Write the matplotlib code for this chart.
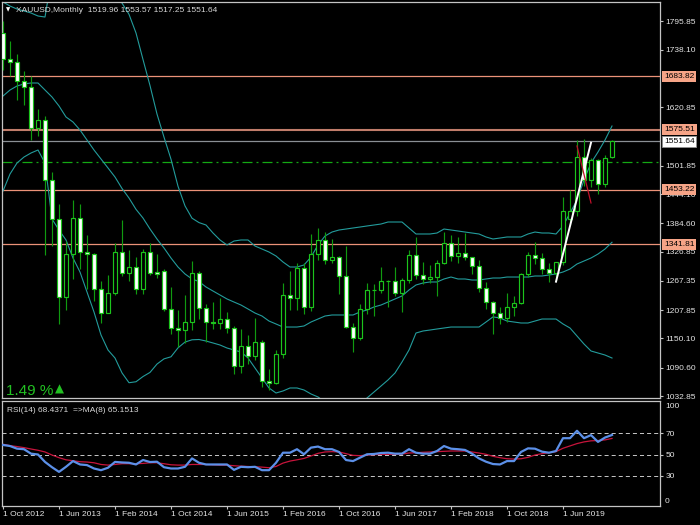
import numpy as np
import matplotlib.pyplot as plt

plt.rcParams['font.family'] = ['Liberation Sans', 'DejaVu Sans']
plt.rcParams['lines.scale_dashes'] = False

# XAUUSD monthly bars, Oct 2012 .. Jan 2020
opens = [1773, 1719, 1712, 1675, 1663, 1578, 1595, 1472, 1393, 1234,
         1322, 1395, 1327, 1323, 1251, 1202, 1243, 1326, 1284, 1296,
         1250, 1327, 1286, 1287, 1210, 1171, 1167, 1183, 1283, 1213,
         1184, 1182, 1190, 1172, 1095, 1134, 1115, 1142, 1064, 1060,
         1118, 1238, 1233, 1293, 1215, 1322, 1351, 1309, 1316, 1277,
         1173, 1152, 1211, 1248, 1249, 1268, 1268, 1242, 1269, 1321,
         1280, 1271, 1275, 1303, 1345, 1318, 1325, 1315, 1298, 1253,
         1224, 1201, 1192, 1214, 1222, 1282, 1321, 1313, 1292, 1284,
         1305, 1393, 1410, 1520, 1472, 1513, 1464, 1519.96]
highs = [1796, 1755, 1730, 1694, 1685, 1617, 1604, 1488, 1424, 1348,
         1433, 1424, 1361, 1324, 1267, 1280, 1345, 1392, 1331, 1315,
         1332, 1345, 1322, 1292, 1255, 1208, 1238, 1308, 1288, 1220,
         1224, 1232, 1205, 1175, 1170, 1157, 1191, 1146, 1088, 1126,
         1263, 1287, 1303, 1304, 1362, 1375, 1367, 1352, 1318, 1338,
         1181, 1220, 1264, 1262, 1296, 1270, 1296, 1274, 1331, 1357,
         1306, 1299, 1309, 1366, 1361, 1356, 1365, 1316, 1309, 1265,
         1226, 1214, 1243, 1237, 1284, 1326, 1347, 1324, 1303, 1306,
         1439, 1453, 1555, 1557, 1517, 1516, 1524, 1553.57]
lows = [1696, 1685, 1636, 1626, 1555, 1562, 1321, 1338, 1180, 1208,
        1271, 1292, 1251, 1226, 1182, 1202, 1238, 1277, 1268, 1240,
        1240, 1280, 1273, 1206, 1160, 1132, 1141, 1167, 1190, 1142,
        1170, 1170, 1162, 1077, 1080, 1098, 1106, 1052, 1046, 1058,
        1111, 1208, 1208, 1199, 1207, 1310, 1301, 1303, 1241, 1171,
        1123, 1146, 1200, 1195, 1243, 1214, 1236, 1204, 1264, 1271,
        1261, 1264, 1236, 1302, 1307, 1303, 1310, 1282, 1245, 1211,
        1160, 1180, 1183, 1196, 1221, 1276, 1302, 1281, 1266, 1267,
        1300, 1382, 1400, 1460, 1458, 1445, 1459, 1517.25]
closes = [1719, 1712, 1675, 1663, 1578, 1595, 1472, 1393, 1234, 1322,
          1395, 1327, 1323, 1251, 1202, 1243, 1326, 1284, 1296, 1250,
          1327, 1283, 1282, 1210, 1172, 1167, 1183, 1283, 1213, 1183,
          1182, 1190, 1172, 1095, 1134, 1115, 1142, 1064, 1060, 1118,
          1238, 1233, 1293, 1215, 1322, 1351, 1309, 1316, 1277, 1173,
          1152, 1211, 1249, 1249, 1268, 1268, 1242, 1269, 1321, 1280,
          1271, 1275, 1303, 1345, 1318, 1325, 1315, 1298, 1253, 1224,
          1201, 1192, 1214, 1222, 1282, 1321, 1313, 1292, 1284, 1305,
          1409, 1410, 1520, 1472, 1513, 1464, 1517, 1551.64]

# Bollinger bands (20, 2)
bb_upper = [1835.1, 1826.9, 1820.8, 1816.8, 1812.7, 1806.6, 1804.5, 1890, 1876, 1851,
            1868, 1864, 1864, 1864, 1874, 1868, 1847, 1833, 1810, 1772,
            1718, 1665, 1607, 1560, 1515, 1460, 1420, 1395, 1386, 1381.1,
            1364.8, 1350.6, 1340.4, 1348.5, 1350.6, 1350.6, 1338.3, 1332.2, 1326.1, 1318.0,
            1305.8, 1295.6, 1295.6, 1299.7, 1315.9, 1340.4, 1358.7, 1366.8, 1370.9, 1372.9,
            1375.0, 1377.0, 1379.1, 1381.1, 1383.1, 1387.2, 1387.2, 1387.2, 1375.0, 1362.8,
            1362.8, 1362.8, 1364.8, 1372.9, 1370.9, 1368.9, 1366.8, 1364.8, 1362.8, 1356.7,
            1352.6, 1354.6, 1356.7, 1356.7, 1356.7, 1362.8, 1366.8, 1364.8, 1364.8, 1362.8,
            1379.1, 1405.5, 1432.0, 1472.7, 1507.3, 1529.7, 1554.1, 1582.6]
bb_middle = [1643.7, 1655.9, 1664.1, 1668.2, 1670.2, 1670.2, 1655.9, 1641.7, 1623.4, 1601.0,
             1590.8, 1574.5, 1554.1, 1533.8, 1515.5, 1497.2, 1478.8, 1455.5, 1436.0, 1413.0,
             1395.3, 1373.0, 1352.6, 1334.3, 1313.9, 1295.6, 1281.4, 1271.2, 1266.0, 1254.9,
             1246.7, 1238.6, 1230.5, 1224.3, 1218.2, 1210.1, 1201.9, 1195.8, 1185.6, 1179.6,
             1173.4, 1173.4, 1173.4, 1175.5, 1183.6, 1189.7, 1195.8, 1197.9, 1197.9, 1197.9,
             1197.9, 1204.0, 1208.1, 1214.2, 1218.2, 1224.3, 1230.5, 1236.6, 1248.8, 1259.0,
             1263.0, 1265.1, 1265.1, 1271.2, 1275.2, 1271.2, 1271.2, 1269.1, 1269.1, 1271.2,
             1273.2, 1273.2, 1275.2, 1275.2, 1275.2, 1275.2, 1277.3, 1277.3, 1279.3, 1281.4,
             1285.4, 1291.5, 1301.7, 1307.8, 1313.9, 1322.0, 1332.2, 1346.0]
bb_lower = [1450.3, 1484.9, 1507.3, 1519.5, 1527.7, 1533.8, 1507.3, 1393.3, 1370.9, 1350.6,
            1313.9, 1285.4, 1244.7, 1204.0, 1157.2, 1126.6, 1110.3, 1080, 1060, 1062,
            1072.6, 1081, 1098, 1108.6, 1112.8, 1131, 1142.8, 1147.4, 1148, 1144.9,
            1140.9, 1136.8, 1130.7, 1126.6, 1122.6, 1110.4, 1090.0, 1069.6, 1049.3, 1039.1,
            1043.2, 1049.3, 1049.3, 1045.2, 1037.1, 1031.0, 1020.8, 1014.6, 1010.6, 1008.5,
            1012.6, 1018.7, 1028.9, 1041.1, 1053.3, 1065.6, 1079.8, 1102.2, 1126.6, 1161.2,
            1165.3, 1167.3, 1169.4, 1171.4, 1173.4, 1173.4, 1173.4, 1173.4, 1173.4, 1183.6,
            1194.0, 1191.8, 1185.6, 1183.6, 1181.6, 1181.6, 1185.6, 1189.7, 1189.7, 1189.7,
            1179.6, 1171.4, 1155.1, 1138.8, 1124.6, 1120.5, 1116.4, 1110.3]

# RSI(14) and its MA(8)
rsi = [59, 58, 55.5, 55, 50.8, 50, 43, 38, 33.6, 38.4,
       43.8, 40.6, 40, 36.8, 35.2, 37.5, 43, 42.5, 42.2, 40.6,
       44.8, 42.9, 43.2, 38, 36.8, 36.8, 38.4, 46.3, 42.2, 40.6,
       40.6, 40.6, 40.6, 35.5, 38.4, 38, 38.4, 35.2, 35.2, 42.2,
       51.7, 51.7, 55, 50.2, 56.5, 57.5, 55, 55, 52.4, 44.8,
       43.8, 47, 50.2, 50.5, 51.4, 51.7, 50.8, 50.8, 55, 51.7,
       50.8, 50.8, 53.3, 58, 55.5, 55, 54.3, 50.8, 46.3, 43.2,
       41, 40.6, 43.8, 43.8, 52.4, 55.8, 55.5, 52.7, 51.7, 53.3,
       65.4, 65.4, 72.4, 65.4, 68.3, 61.9, 66, 68.44]
rsi_ma = [59.7, 58.4, 57.5, 56.5, 55.2, 54.0, 52.4, 49.5, 47, 45,
          44.1, 43.2, 42.9, 42.2, 40.6, 40, 40.6, 41.3, 41.3, 41.3,
          41.6, 42.2, 42.2, 41.3, 40.3, 40, 40, 40.6, 40.6, 40.6,
          40.3, 40, 40, 39.4, 39, 38.7, 38.4, 38.1, 37.5, 38.7,
          41.9, 43.8, 45, 46.3, 48.6, 51.1, 52.4, 52.7, 52.4, 50.8,
          49.2, 48.9, 49.5, 49.8, 50.2, 50.2, 50.2, 50.5, 51.4, 51.7,
          52.1, 52.4, 52.7, 53, 53.3, 53.3, 53.3, 52.4, 51.4, 50.2,
          48.3, 47, 46, 45.7, 46, 47.3, 49.5, 50.8, 51.7, 52.7,
          55.9, 58.1, 60.3, 61.9, 62.9, 63.2, 63.8, 65.15]

# horizontal levels and trend lines (bar index, price)
salmon_levels = [1683.82, 1575.51, 1453.22, 1341.81]
bid_price = 1551.64
dashdot_level = 1508.7
white_line = ([79, 84], [1265.7, 1548.6])
red_line = ([82, 84], [1542, 1426])

price_ticks = [1795.85, 1738.10, 1620.85, 1501.85, 1444.10, 1384.60,
               1326.85, 1267.35, 1207.85, 1150.10, 1090.60, 1032.85]
date_pos = [0, 8, 16, 24, 32, 40, 48, 56, 64, 72, 80]
date_labels = ['1 Oct 2012', '1 Jun 2013', '1 Feb 2014', '1 Oct 2014', '1 Jun 2015',
               '1 Feb 2016', '1 Oct 2016', '1 Jun 2017', '1 Feb 2018', '1 Oct 2018',
               '1 Jun 2019']

W, H = 700, 525
fig = plt.figure(figsize=(7, 5.25), dpi=100, facecolor='black')
ax = fig.add_axes([2 / W, 1 - 398 / H, 658 / W, 396 / H], facecolor='black')
ax2 = fig.add_axes([2 / W, 1 - 506 / H, 658 / W, 105 / H], facecolor='black')

frame = '#c4c4c4'
txt = '#e4e4e4'
green_wick = '#109a10'
green_edge = '#1cc41c'
teal = '#239c9c'
salmon = '#ec9278'

x = np.arange(len(closes))
o = np.array(opens, float)
c = np.array(closes, float)

# levels
for lv in salmon_levels:
    if lv == 1575.51:
        ax.axhline(lv, color='#c07c6a', lw=1.5, zorder=1)
    else:
        ax.axhline(lv, color=salmon, lw=0.9, zorder=1)
ax.axhline(bid_price, color='#8a8f94', lw=0.9, zorder=1)
ax.axhline(dashdot_level, color='#14a814', lw=0.9, dashes=(7.2, 2.9, 1.4, 2.9), zorder=1)

# bollinger bands
for band in (bb_upper, bb_middle, bb_lower):
    ax.plot(x, band, color=teal, lw=0.8, zorder=2)

# candles
ax.vlines(x, lows, highs, color=green_wick, lw=0.85, zorder=3)
face = np.where(c >= o, 'black', 'white')
ax.bar(x, np.abs(c - o), bottom=np.minimum(o, c), width=0.6, color=face,
       edgecolor=green_edge, linewidth=0.85, zorder=4)

ax.plot(*white_line, color='white', lw=1.4, zorder=5)
ax.plot(*red_line, color='#c0102a', lw=0.9, zorder=5)

ax.set_xlim(-0.143, 93.857)
ax.set_ylim(1028.9, 1835.1)
ax.set_xticks([])
ax.yaxis.tick_right()
ax.set_yticks(price_ticks)
ax.set_yticklabels(['%.2f' % t for t in price_ticks])
ax.tick_params(axis='y', direction='out', length=2.5, width=0.8, color=frame,
               labelcolor=txt, labelsize=6, pad=1.5)

lab_tr = ax.get_yaxis_transform()
for lv in salmon_levels:
    ax.text(1 + 4 / 658, lv, '%.2f' % lv, transform=lab_tr, ha='left', va='center',
            fontsize=6, color='black', zorder=6, clip_on=False,
            bbox=dict(boxstyle='square,pad=0.22', fc='#f6a487', ec='none'))
ax.text(1 + 4 / 658, bid_price, '%.2f' % bid_price, transform=lab_tr, ha='left',
        va='center', fontsize=6, color='black', zorder=6, clip_on=False,
        bbox=dict(boxstyle='square,pad=0.22', fc='white', ec='#909090', lw=0.6))

# RSI panel
for lv in (70, 50, 30):
    ax2.axhline(lv, color='#c8c8c8', lw=0.7, dashes=(2.9, 2.2), zorder=1)
ax2.plot(x, rsi_ma, color='#c8143c', lw=0.9, zorder=2)
ax2.plot(x, rsi, color='#5c90e8', lw=1.6, zorder=3)
ax2.set_xlim(-0.143, 93.857)
ax2.set_ylim(1.4, 100.5)
ax2.yaxis.tick_right()
ax2.set_yticks([70, 50, 30])
ax2.set_yticklabels(['70', '50', '30'])
ax2.tick_params(axis='y', direction='out', length=2.5, width=0.8, color=frame,
                labelcolor=txt, labelsize=6, pad=1.5)
ytr = ax2.get_yaxis_transform()
ax2.text(1 + 5 / 658, 98.5, '100', transform=ytr, ha='left', va='top', fontsize=6, color=txt)
ax2.text(1 + 5 / 658, 2.5, '0', transform=ytr, ha='left', va='bottom', fontsize=6, color=txt)
ax2.set_xticks(date_pos)
ax2.set_xticklabels(date_labels, ha='left')
ax2.tick_params(axis='x', direction='out', length=2.5, width=0.8, color=frame,
                labelcolor=txt, labelsize=6, pad=1.2)

for a in (ax, ax2):
    for s in a.spines.values():
        s.set_color(frame)
        s.set_linewidth(0.9)

# texts
def fy(y):
    return 1 - y / H

fig.text(8 / W, fy(10), '\u25bc', fontsize=4, color='white', ha='center', va='center',
         family='DejaVu Sans')
fig.text(16 / W, fy(11.7), 'XAUUSD,Monthly  1519.96 1553.57 1517.25 1551.64',
         fontsize=6, color='#d8d8d8', va='baseline')
fig.text(7 / W, fy(411.7), 'RSI(14) 68.4371  =>MA(8) 65.1513', fontsize=6,
         color='#d8d8d8', va='baseline')
fig.text(6 / W, fy(395), '1.49 %', fontsize=11, color='#22c022', va='baseline')
fig.text(59 / W, fy(389), '\u25b2', fontsize=8.5, color='#22c022', ha='center',
         va='center', family='DejaVu Sans')

fig.savefig('out.png', dpi=100, facecolor='black')
